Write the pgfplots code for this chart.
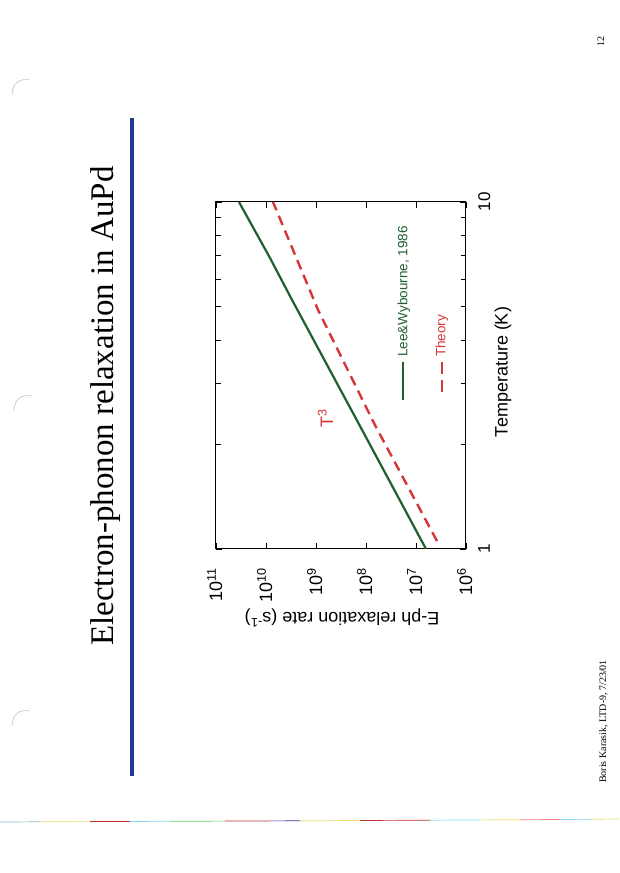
\documentclass[border=0pt]{standalone}
\usepackage{fontspec}
\setmainfont{Liberation Serif}
\newfontfamily\hv{Liberation Sans}
\usepackage{pgfplots}
\pgfplotsset{compat=1.18}
\definecolor{lgreen}{RGB}{32,96,48}
\definecolor{lred}{RGB}{214,54,58}
\definecolor{lblue}{RGB}{36,56,150}
\begin{document}
\begin{tikzpicture}[x=1pt,y=1pt]
\useasboundingbox[fill=white] (0,0) rectangle (619,873);
% scan artefacts
\draw[gray!50, line width=0.6pt] (12,778) .. controls (12,790) and (20,795) .. (30,793);
\draw[gray!50, line width=0.6pt] (14,462) .. controls (14,474) and (22,479) .. (32,477);
\draw[gray!50, line width=0.6pt] (12,147) .. controls (12,159) and (20,164) .. (30,162);
\begin{scope}[line width=0.7pt, opacity=0.8]
\draw[cyan!40!gray] (0,51) -- (40,51.2);
\draw[yellow!70!gray] (40,51.2) -- (90,51.4);
\draw[red!70!black] (90,51.4) -- (130,51.5);
\draw[cyan!60] (130,51.5) -- (170,51.7);
\draw[green!50!gray] (170,51.7) -- (225,51.9);
\draw[red!70!black] (225,51.9) -- (270,52.1);
\draw[blue!60!black] (270,52.1) -- (300,52.2);
\draw[yellow!70!gray] (300,52.2) -- (360,52.5);
\draw[red!70!black] (360,52.5) -- (430,52.8);
\draw[cyan!60] (430,52.8) -- (480,53.1);
\draw[yellow!70!gray] (480,53.1) -- (520,53.3);
\draw[red!60] (520,53.3) -- (560,53.5);
\draw[cyan!60] (560,53.5) -- (590,53.7);
\draw[yellow!70!gray] (590,53.7) -- (619,54);
\end{scope}
% title
\node[rotate=90, anchor=base, inner sep=0, font=\fontsize{33}{33}\selectfont] at (113,467) {Electron-phonon relaxation in AuPd};
\fill[lblue] (129.5,97) rectangle (133.5,755);
% footer
\node[rotate=90, anchor=base west, inner sep=0, font=\fontsize{10}{10}\selectfont] at (606,90) {Boris Karasik, LTD-9, 7/23/01};
\node[rotate=90, anchor=base, inner sep=0, font=\fontsize{10}{10}\selectfont] at (604,831) {12};
\begin{axis}[
  at={(216pt,324pt)}, anchor=south west,
  scale only axis, width=250pt, height=347pt,
  xmode=log, ymode=log, x dir=reverse,
  xmin=1e6, xmax=1e11, ymin=1, ymax=10,
  xtick={1e6,1e7,1e8,1e9,1e10,1e11},
  xticklabels={10\smash{\textsuperscript{6}},10\smash{\textsuperscript{7}},10\smash{\textsuperscript{8}},10\smash{\textsuperscript{9}},10\smash{\textsuperscript{10}},10\smash{\textsuperscript{11}}},
  xminorticks=false,
  ytick={1,10}, yticklabels={1,10},
  minor ytick={2,3,4,5,6,7,8,9},
  tick align=inside,
  major tick length=6pt, minor tick length=5pt,
  tick style={black, line width=0.8pt},
  axis line style={line width=1pt},
  xticklabel style={rotate=90, anchor=east, inner sep=0pt, font=\hv\fontsize{18}{18}\selectfont},
  xticklabel shift=19pt,
  yticklabel pos=right,
  yticklabel style={rotate=90, anchor=north, inner sep=0pt, font=\hv\fontsize{17}{17}\selectfont},
  yticklabel shift=12pt,
]
\addplot[lgreen, line width=2.2pt] coordinates {
  (6.31e6,1) (1.26e8,2.234) (3.02e9,5.224) (8.32e9,6.90) (3.47e10,10)
};
\addplot[lred, line width=2.4pt, dash pattern=on 10pt off 6pt] coordinates {
  (3.80e6,1.054) (6.61e7,2.275) (9.12e8,4.89) (7.24e9,10)
};
\end{axis}
% axis labels
\node[rotate=90, inner sep=0, font=\hv\fontsize{18}{18}\selectfont] at (503,501) {Temperature (K)};
\node[rotate=180, inner sep=0, font=\hv\fontsize{18}{18}\selectfont] at (342,255) {E-ph relaxation rate (s\textsuperscript{-1})};
% T^3 label
\node[rotate=90, anchor=base, inner sep=0, text=lred, font=\hv\fontsize{18}{18}\selectfont] at (333,455) {T\smash{\textsuperscript{3}}};
% legend
\draw[lgreen, line width=1.6pt] (403,473) -- (403,511);
\node[rotate=90, anchor=west, inner sep=0, text=lgreen, font=\hv\fontsize{13.5}{13.5}\selectfont] at (404,516) {Lee\&Wybourne, 1986};
\draw[lred, line width=2pt, dash pattern=on 12pt off 6pt] (442,481) -- (442,511);
\node[rotate=90, anchor=west, inner sep=0, text=lred, font=\hv\fontsize{13.5}{13.5}\selectfont] at (442,516) {Theory};
\end{tikzpicture}
\end{document}
